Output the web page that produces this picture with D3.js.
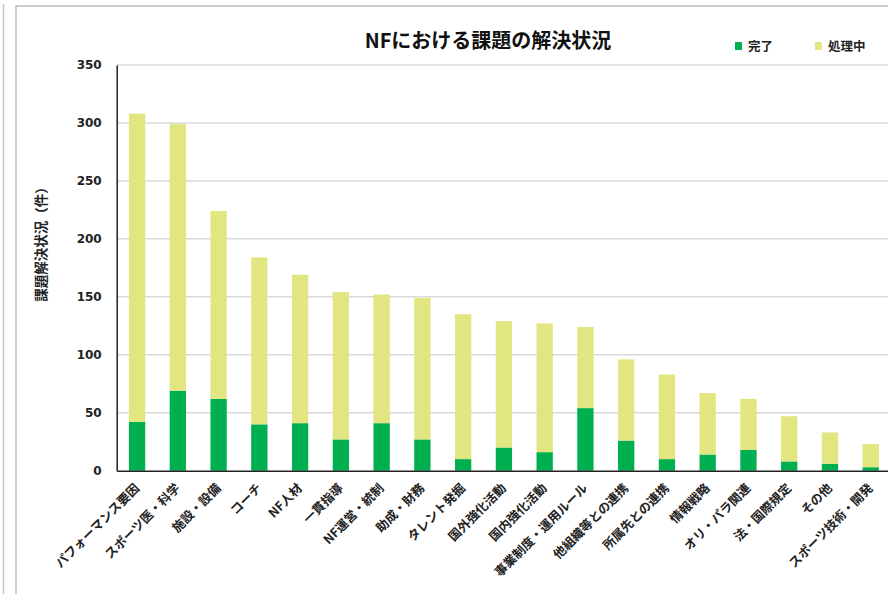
<!DOCTYPE html>
<html><head><meta charset="utf-8">
<script src="https://cdn.jsdelivr.net/npm/d3@7/dist/d3.min.js"></script>
<style>html,body{margin:0;padding:0;background:#fff;overflow:hidden}</style>
</head><body>
<svg id="c" width="888" height="594"></svg>
<script>
const categories = ["パフォーマンス要因","スポーツ医・科学","施設・設備","コーチ","NF人材","一貫指導","NF運営・統制","助成・財務","タレント発掘","国外強化活動","国内強化活動","事業制度・運用ルール","他組織等との連携","所属先との連携","情報戦略","オリ・パラ関連","法・国際規定","その他","スポーツ技術・開発"];
const done = [42,69,62,40,41,27,41,27,10,20,16,54,26,10,14,18,8,6,3];
const inProgress = [266,230,162,144,128,127,111,122,125,109,111,70,70,73,53,44,39,27,20];
const yTicks = [0,50,100,150,200,250,300,350];
const seriesNames = ["完了","処理中"];
const colors = ["#00b050","#e1e680"];

const svg = d3.select("#c");
const jp = "'Noto Sans CJK JP','Noto Sans',sans-serif";
const num = "'DejaVu Sans',Verdana,sans-serif";

// frame
svg.append("line").attr("x1",3.5).attr("x2",3.5).attr("y1",4).attr("y2",594).attr("stroke","#c8c8c8").attr("stroke-width",1.5);
svg.append("rect").attr("x",16).attr("y",6).attr("width",900).attr("height",620).attr("fill","none").attr("stroke","#bdbdbd").attr("stroke-width",1.5);

const x = d3.scaleBand().domain(categories).range([116.7, 891.1]).paddingInner(0.6).paddingOuter(0.3);
const y = d3.scaleLinear().domain([0,350]).range([470.7, 65]);

// gridlines
svg.append("g").selectAll("line").data(yTicks.filter(d=>d>0)).join("line")
  .attr("x1",117).attr("x2",888).attr("y1",d=>y(d)).attr("y2",d=>y(d))
  .attr("stroke","#d9d9d9").attr("stroke-width",1.5);

const rows = categories.map((c,i)=>({c, d:done[i], p:inProgress[i]}));
const stack = d3.stack().keys(["d","p"])(rows);
svg.append("g").selectAll("g").data(stack).join("g").attr("fill",(s,i)=>colors[i])
  .selectAll("rect").data(s=>s).join("rect")
  .attr("x",d=>x(d.data.c)).attr("width",x.bandwidth())
  .attr("y",d=>y(d[1])).attr("height",d=>y(d[0])-y(d[1]));

// axes
const ya = d3.axisLeft(y).tickValues(yTicks).tickSize(0).tickPadding(15);
const yg = svg.append("g").attr("transform","translate(116.7,0)").call(ya);
yg.select(".domain").attr("stroke","#222").attr("stroke-width",1.5);
yg.selectAll("text").attr("font-family",num).attr("font-weight","bold").attr("font-size",12).attr("fill","#222");

const xa = d3.axisBottom(x).tickSize(0).tickFormat("");
const xg = svg.append("g").attr("transform","translate(0,470.7)").call(xa);
xg.select(".domain").attr("stroke","#222").attr("stroke-width",1.5);

svg.append("g").selectAll("text").data(categories).join("text")
  .attr("transform",d=>`translate(${x(d)+x.bandwidth()/2+3},489) rotate(-45)`)
  .attr("text-anchor","end").attr("font-family",jp).attr("font-weight","bold")
  .attr("font-size",12.5).attr("fill","#222").text(d=>d);

// y title
svg.append("text").attr("transform","translate(46,241) rotate(-90)").attr("text-anchor","middle")
  .attr("font-family",jp).attr("font-weight","bold").attr("font-size",13.5).attr("fill","#222")
  .text("課題解決状況（件）");

// title
svg.append("text").attr("x",488).attr("y",48).attr("text-anchor","middle")
  .attr("font-family",jp).attr("font-weight","bold").attr("font-size",20).attr("fill","#111")
  .text("NFにおける課題の解決状況");

// legend
const lx = [735, 815];
const lg = svg.append("g").selectAll("g").data(seriesNames).join("g")
  .attr("transform",(d,i)=>`translate(${lx[i]},0)`);
lg.append("rect").attr("x",0).attr("y",42).attr("width",7).attr("height",8).attr("fill",(d,i)=>colors[i]);
lg.append("text").attr("x",13).attr("y",50.5).attr("font-family",jp).attr("font-weight","bold")
  .attr("font-size",12.5).attr("fill","#222").text(d=>d);
</script>
</body></html>
